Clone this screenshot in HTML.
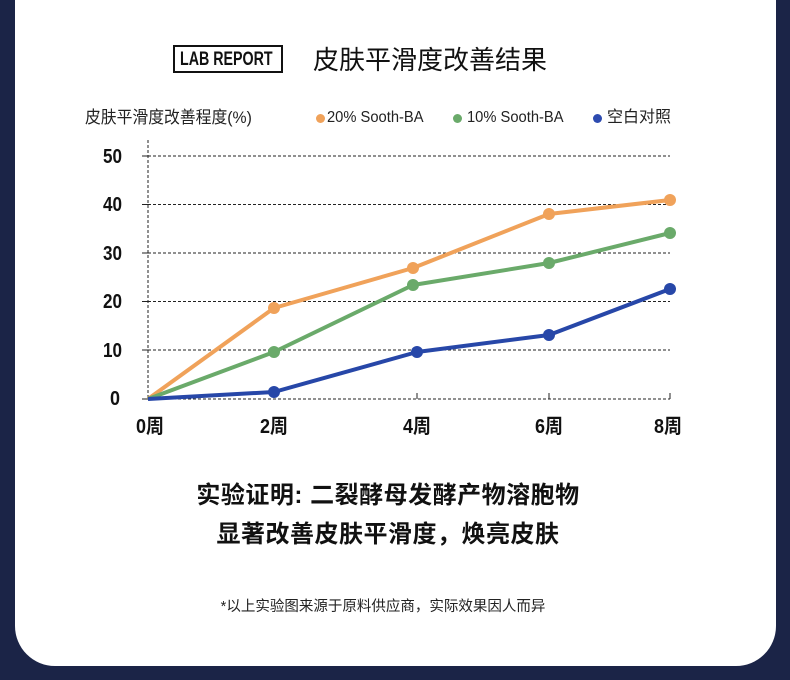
<!DOCTYPE html>
<html><head><meta charset="utf-8"><style>
body{margin:0;width:790px;height:680px;background:#1b2447;overflow:hidden;font-family:"Liberation Sans","Noto Sans CJK SC",sans-serif;}
.card{position:absolute;left:15px;top:0;width:761px;height:666px;background:#fff;border-radius:0 0 40px 40px;}
.t{position:absolute;white-space:nowrap;color:#222;line-height:20px;}
.n{display:inline-block;transform-origin:left center;}
.d{position:absolute;width:9px;height:9px;border-radius:50%;top:114px;}
</style></head><body>
<div class="card"></div>
<div class="t" style="left:173px;top:45px;width:106px;height:24px;border:2px solid #111;overflow:hidden;"><span style="position:absolute;left:5px;top:2px;font-weight:bold;font-size:19px;line-height:22px;display:inline-block;transform:scaleX(0.75);transform-origin:left;color:#111;">LAB REPORT</span></div>
<div class="t" style="left:313px;top:46px;font-size:26px;line-height:28px;color:#111;">皮肤平滑度改善结果</div>
<div class="t" style="left:85px;top:108px;font-size:17px;"><span class="n" style="transform:scaleX(0.93)">皮肤平滑度改善程度(%)</span></div>
<div class="d" style="left:316px;background:#f0a25a"></div>
<div class="t" style="left:327px;top:108px;font-size:16px;"><span class="n" style="transform:scaleX(0.92)">20% Sooth-BA</span></div>
<div class="d" style="left:453px;background:#6aaa6a"></div>
<div class="t" style="left:467px;top:108px;font-size:16px;"><span class="n" style="transform:scaleX(0.92)">10% Sooth-BA</span></div>
<div class="d" style="left:593px;background:#2d4bb0"></div>
<div class="t" style="left:607px;top:108px;font-size:16px;">空白对照</div>
<svg style="position:absolute;left:0;top:0" width="790" height="680">
<g stroke="#222" stroke-width="1" stroke-dasharray="3,2" fill="none">
<line x1="148" y1="140" x2="148" y2="400"/>
<line x1="148" y1="156" x2="670" y2="156"/>
<line x1="148" y1="204.5" x2="670" y2="204.5"/>
<line x1="148" y1="253" x2="670" y2="253"/>
<line x1="148" y1="301.5" x2="670" y2="301.5"/>
<line x1="148" y1="350" x2="670" y2="350"/>
<line x1="148" y1="399" x2="670" y2="399"/>
</g>
<g stroke="#222" stroke-width="1"><line x1="142" y1="156" x2="148" y2="156"/><line x1="142" y1="204.5" x2="148" y2="204.5"/><line x1="142" y1="253" x2="148" y2="253"/><line x1="142" y1="301.5" x2="148" y2="301.5"/><line x1="142" y1="350" x2="148" y2="350"/><line x1="142" y1="399" x2="148" y2="399"/>
<line x1="417" y1="393" x2="417" y2="399"/><line x1="549" y1="393" x2="549" y2="399"/><line x1="670" y1="393" x2="670" y2="399"/></g>
<g font-family="Liberation Sans,sans-serif" font-weight="bold" font-size="20" fill="#111">
<text x="103" y="163" textLength="19" lengthAdjust="spacingAndGlyphs">50</text>
<text x="103" y="211" textLength="19" lengthAdjust="spacingAndGlyphs">40</text>
<text x="103" y="260" textLength="19" lengthAdjust="spacingAndGlyphs">30</text>
<text x="103" y="308" textLength="19" lengthAdjust="spacingAndGlyphs">20</text>
<text x="103" y="357" textLength="19" lengthAdjust="spacingAndGlyphs">10</text>
<text x="110" y="405" textLength="10" lengthAdjust="spacingAndGlyphs">0</text></g>
<g font-family="Liberation Sans,Noto Sans CJK SC,sans-serif" font-weight="bold" font-size="20" fill="#111">
<text x="136" y="433" textLength="28" lengthAdjust="spacingAndGlyphs">0周</text>
<text x="260" y="433" textLength="28" lengthAdjust="spacingAndGlyphs">2周</text>
<text x="403" y="433" textLength="28" lengthAdjust="spacingAndGlyphs">4周</text>
<text x="535" y="433" textLength="28" lengthAdjust="spacingAndGlyphs">6周</text>
<text x="654" y="433" textLength="28" lengthAdjust="spacingAndGlyphs">8周</text></g>
<g stroke-width="4" fill="none" stroke-linejoin="round">
<polyline stroke="#f0a25a" points="148,399 274,308 413,268 549,214 670,200"/>
<polyline stroke="#6aaa6a" points="148,399 274,352 413,285 549,263 670,233"/>
<polyline stroke="#2747a8" points="148,399 274,392 417,352 549,335 670,289"/>
</g>
<g fill="#f0a25a"><circle cx="274" cy="308" r="6"/><circle cx="413" cy="268" r="6"/><circle cx="549" cy="214" r="6"/><circle cx="670" cy="200" r="6"/></g>
<g fill="#6aaa6a"><circle cx="274" cy="352" r="6"/><circle cx="413" cy="285" r="6"/><circle cx="549" cy="263" r="6"/><circle cx="670" cy="233" r="6"/></g>
<g fill="#2747a8"><circle cx="274" cy="392" r="6"/><circle cx="417" cy="352" r="6"/><circle cx="549" cy="335" r="6"/><circle cx="670" cy="289" r="6"/></g>
</svg>
<div class="t" style="left:-7px;width:790px;text-align:center;top:482px;line-height:28px;font-size:24px;letter-spacing:0.5px;font-weight:bold;color:#111;">实验证明: 二裂酵母发酵产物溶胞物</div>
<div class="t" style="left:-7px;width:790px;text-align:center;top:521px;line-height:28px;font-size:24px;letter-spacing:0.5px;font-weight:bold;color:#111;">显著改善皮肤平滑度，焕亮皮肤</div>
<div class="t" style="left:-12px;width:790px;text-align:center;top:597px;font-size:14.5px;color:#222;">*以上实验图来源于原料供应商，实际效果因人而异</div>
</body></html>
